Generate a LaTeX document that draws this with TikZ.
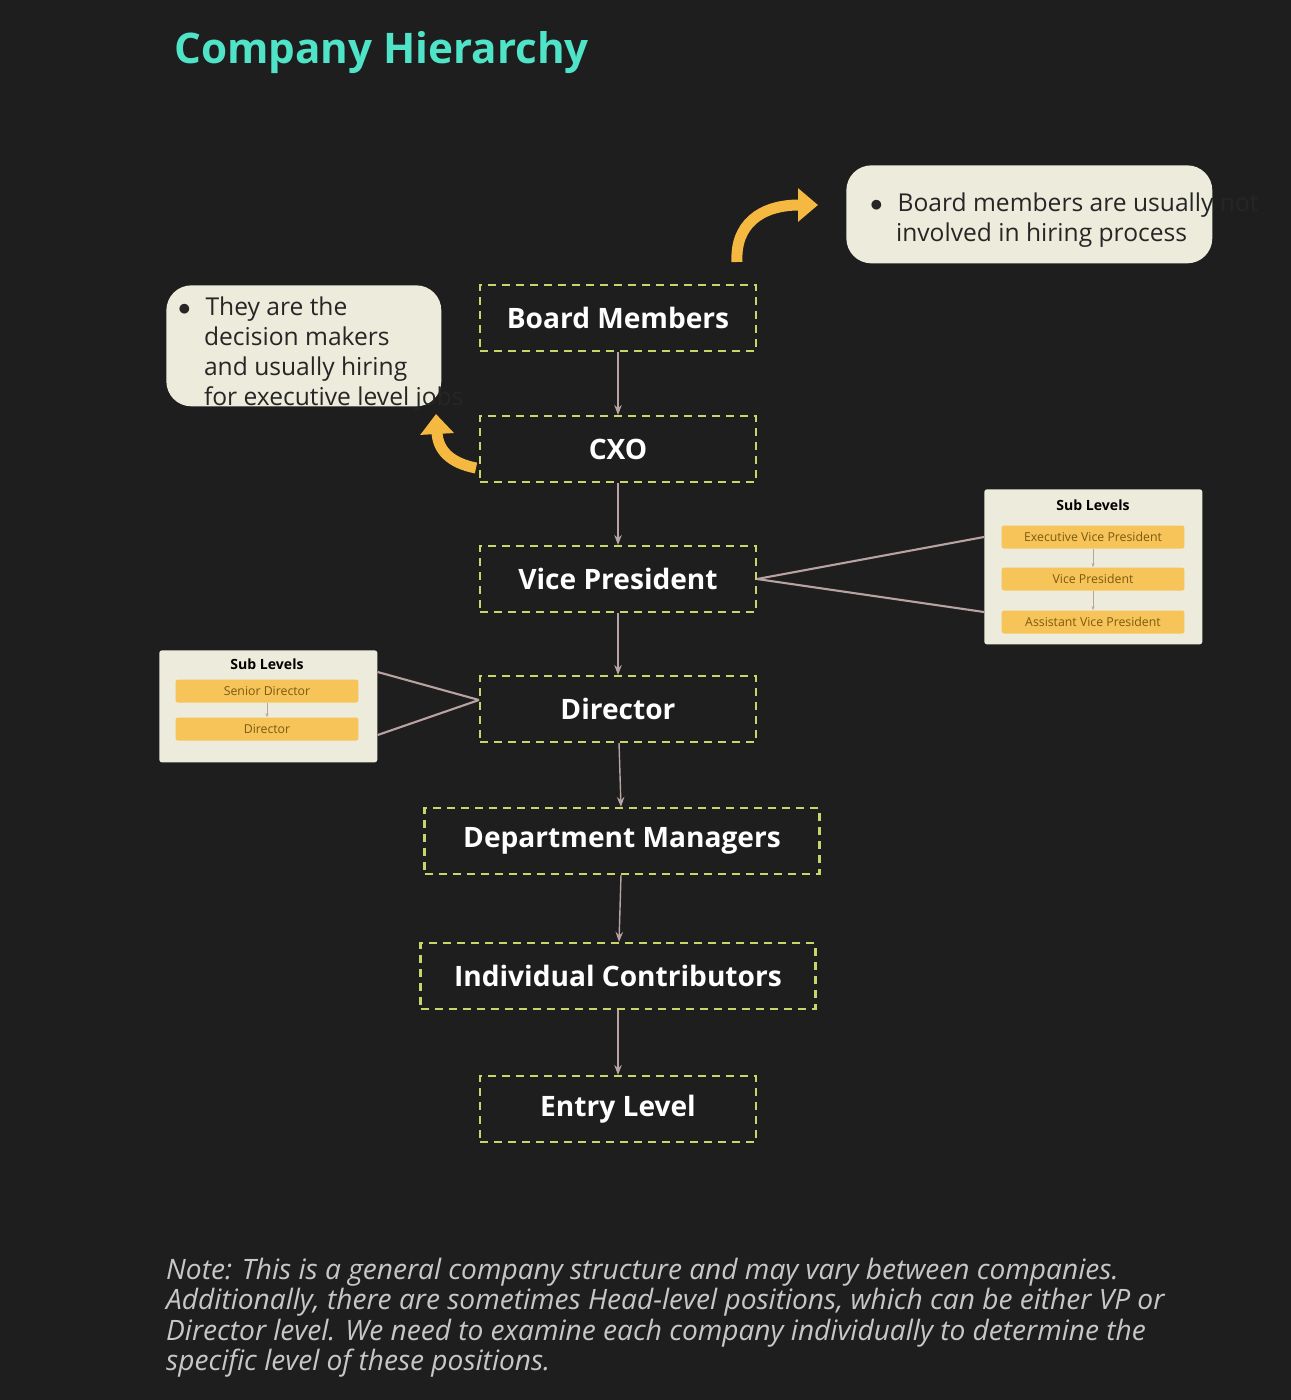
\documentclass[tikz,border=0pt]{standalone}
\usepackage{fontspec}
\setmainfont{Open Sans}
\usetikzlibrary{arrows.meta, positioning, calc}
\definecolor{bgColor}{HTML}{1E1E1E}
\definecolor{dashFg}{HTML}{C9D46A}
\definecolor{linkFg}{HTML}{B8A2A2}
\definecolor{noteBg}{HTML}{ECEBDC}
\definecolor{itemBg}{HTML}{F7C45A}
\definecolor{itemFg}{HTML}{7A5A10}
\definecolor{curlFg}{HTML}{F5B942}
\definecolor{titleFg}{HTML}{4FE3C8}
\tikzstyle{arrow} = [thick, linkFg, -{Stealth[length=2mm]}]
\tikzstyle{line} = [very thick, linkFg]
\tikzstyle{curl} = [line width=2.2mm, curlFg, -{Triangle[length=4mm, width=6.5mm]}]
\tikzstyle{level} = [rectangle, minimum width=5.52cm, minimum height=1.32cm, draw=dashFg, very thick, dash pattern=on 1.6mm off 1.2mm, text=white, font=\fontsize{16}{19}\selectfont\bfseries]
\tikzstyle{callout} = [rectangle, rounded corners=5mm, fill=noteBg, text=black!85, align=left, anchor=north west, font=\fontsize{14}{17}\selectfont]
\tikzstyle{subbox} = [rectangle, rounded corners=0.5mm, fill=noteBg, anchor=north west]
\tikzstyle{item} = [rectangle, rounded corners=0.5mm, fill=itemBg, text=itemFg, minimum width=3.66cm, minimum height=0.46cm, font=\fontsize{7}{8}\selectfont]

\begin{document}
\begin{tikzpicture}[x=0.02cm, y=-0.02cm]

\fill [bgColor] (0,0) rectangle (1291,1400);

\node (title) [anchor=west, text=titleFg, font=\fontsize{24}{28}\selectfont\bfseries] at (168,53) {Company Hierarchy};

\node (board) [level] at (618,318) {Board Members};
\node (cxo) [level] at (618,449) {CXO};
\node (vp) [level] at (618,579) {Vice President};
\node (dir) [level] at (618,709) {Director};
\node (dept) [level, minimum width=7.9cm] at (622,841) {Department Managers};
\node (ic) [level, minimum width=7.9cm] at (618,976) {Individual Contributors};
\node (entry) [level] at (618,1109) {Entry Level};

\draw [arrow] (board) -- (cxo);
\draw [arrow] (cxo) -- (vp);
\draw [arrow] (vp) -- (dir);
\draw [arrow] (dir) -- (dept);
\draw [arrow] (dept) -- (ic);
\draw [arrow] (ic) -- (entry);

\node (boardNote) [callout, minimum width=7.32cm, minimum height=1.96cm] at (846,165) {};
\node [anchor=north west, font=\fontsize{14}{17}\selectfont, text=black!85, align=left] at (864,187) {$\bullet$\hspace{0.6em}Board members are usually not\\\hspace{1.05em}involved in hiring process};
\node (cxoNote) [callout, minimum width=5.5cm, minimum height=2.42cm] at (166,285) {};
\node [anchor=north west, font=\fontsize{14}{17}\selectfont, text=black!85, align=left] at (172,291) {$\bullet$\hspace{0.6em}They are the\\\hspace{1.05em}decision makers\\\hspace{1.05em}and usually hiring\\\hspace{1.05em}for executive level jobs};

\coordinate (curlA) at (737,262);
\coordinate (curlB) at (818,205);
\draw [curl] (curlA) .. controls (735,225) and (760,205) .. (curlB);
\coordinate (curlC) at (476,468);
\coordinate (curlD) at (436,414);
\draw [curl] (curlC) .. controls (450,463) and (438,450) .. (curlD);

% sub levels of the vice president
\node (vpSub) [subbox, minimum width=4.36cm, minimum height=3.1cm] at (984,489) {};
\node (vpSubT) [font=\fontsize{8}{9}\selectfont\bfseries] at (1093,505) {Sub Levels};
\node (evp) [item] at (1093,537) {Executive Vice President};
\node (vpi) [item] at (1093,579) {Vice President};
\node (avp) [item] at (1093,622) {Assistant Vice President};
\draw [thin, linkFg, -{Stealth[length=0.8mm]}] (evp) -- (vpi);
\draw [thin, linkFg, -{Stealth[length=0.8mm]}] (vpi) -- (avp);
\draw [line] (vp.east) -- (vpSub.north west |- evp);
\draw [line] (vp.east) -- ($(vpSub.north west |- avp)+(0,-10)$);

% sub levels of the director
\node (dirSub) [subbox, minimum width=4.36cm, minimum height=2.24cm] at (159,650) {};
\node (dirSubT) [font=\fontsize{8}{9}\selectfont\bfseries] at (267,664) {Sub Levels};
\node (sdir) [item] at (267,691) {Senior Director};
\node (diri) [item] at (267,729) {Director};
\draw [thin, linkFg, -{Stealth[length=0.8mm]}] (sdir) -- (diri);
\draw [line] ($(dir.west)+(0,-9)$) -- ($(dirSub.north east)+(0,22)$);
\draw [line] ($(dir.west)+(0,-9)$) -- ($(dirSub.north east)+(0,85)$);

\node (note) [anchor=north west, align=left, text=white!78!black, font=\fontsize{16}{17.2}\selectfont\itshape] at (160,1252) {Note: This is a general company structure and may vary between companies.\\Additionally, there are sometimes Head-level positions, which can be either VP or\\Director level. We need to examine each company individually to determine the\\specific level of these positions.};

\end{tikzpicture}
\end{document}
